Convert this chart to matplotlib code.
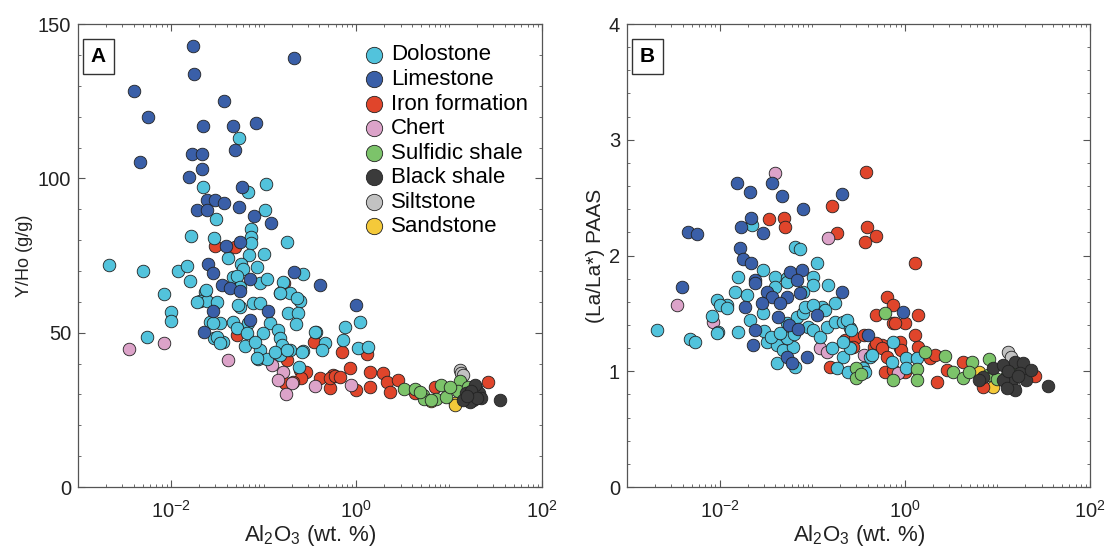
import matplotlib
matplotlib.use("Agg")
import matplotlib.pyplot as plt
from matplotlib.ticker import FixedLocator, LogLocator, NullFormatter, MultipleLocator

plt.rcParams.update({"font.family": ["Liberation Sans", "DejaVu Sans"],
                     "mathtext.default": "regular", "font.size": 11})

CATS = ["Dolostone", "Limestone", "Iron formation", "Chert", "Sulfidic shale",
        "Black shale", "Siltstone", "Sandstone"]
COLORS = {"Dolostone": "#52c3dc", "Limestone": "#3a5fa8", "Iron formation": "#e0452b",
          "Chert": "#dca3c9", "Sulfidic shale": "#7cc36a", "Black shale": "#3b3b3b",
          "Siltstone": "#c2c2c2", "Sandstone": "#f4c93a"}

# ---- panel A: Y/Ho vs Al2O3 (wt. %) ----
A_DOL = [(0.0543, 113.2), (0.0224, 97.3), (0.106, 98.2), (0.0684, 95.7), (0.1035, 89.7),
         (0.0305, 86.7), (0.0164, 81.3), (0.0731, 83.5), (0.0741, 81.1), (0.0294, 80.6),
         (0.0725, 79.0), (0.177, 79.5), (0.0417, 74.3), (0.0701, 75.1), (0.101, 75.4),
         (0.00216, 71.9), (0.00498, 70.1), (0.0121, 70.0), (0.0151, 71.7), (0.0578, 72.2),
         (0.0603, 70.5), (0.0843, 71.4), (0.268, 69.0), (0.0161, 66.7), (0.0234, 63.3),
         (0.0206, 60.4), (0.0244, 60.4), (0.0312, 60.0), (0.0085, 62.5), (0.0100, 56.8),
         (0.0100, 53.8), (0.00558, 48.7), (0.0472, 68.1), (0.0914, 66.2), (0.163, 66.5),
         (0.150, 62.8), (0.192, 62.8), (0.246, 60.4), (0.0557, 58.4), (0.0774, 59.5),
         (0.0914, 59.5), (0.185, 56.3), (0.236, 56.5), (0.0264, 53.6), (0.0339, 53.0),
         (0.0472, 53.6), (0.0684, 53.0), (0.117, 53.0), (0.223, 52.7), (0.0513, 51.4),
         (0.0658, 49.8), (0.0977, 49.8), (0.144, 50.9), (0.0294, 48.2), (0.0368, 47.1),
         (0.0631, 45.7), (0.0914, 44.4), (0.150, 48.2), (0.157, 46.0), (0.192, 44.4),
         (0.268, 44.1), (0.0865, 41.4), (0.108, 41.4), (0.150, 42.8), (0.240, 39.0),
         (0.364, 50.3), (0.459, 46.6), (0.423, 44.4), (0.753, 51.7), (0.722, 47.6),
         (1.09, 53.6), (1.03, 44.9), (1.32, 45.3), (0.0513, 68.4), (0.108, 67.3),
         (0.152, 63.0), (0.227, 61.1), (0.0239, 63.8), (0.0557, 64.9), (0.0190, 60.0),
         (0.0287, 53.0), (0.0312, 48.7), (0.0339, 46.6), (0.0535, 59.0), (0.0805, 47.1),
         (0.0843, 41.7), (0.132, 43.8), (0.177, 44.4), (0.262, 43.8), (0.356, 50.3)]
A_LIM = [(0.0172, 143.0), (0.214, 138.9), (0.0179, 133.8), (0.0040, 128.4), (0.0378, 125.2),
         (0.0057, 120.0), (0.0220, 117.0), (0.0472, 117.0), (0.0822, 118.0), (0.0492, 109.2),
         (0.0168, 107.8), (0.0217, 107.8), (0.0047, 105.2), (0.0217, 103.0), (0.0157, 100.4),
         (0.0585, 97.2), (0.0244, 93.0), (0.0299, 93.0), (0.0378, 91.9), (0.0190, 89.9),
         (0.0247, 89.9), (0.0547, 90.6), (0.0789, 87.8), (0.120, 85.6), (0.0394, 78.1),
         (0.0557, 79.5), (0.0254, 72.2), (0.214, 69.8), (0.0287, 69.2), (0.0353, 65.4),
         (0.0434, 64.4), (0.0557, 63.6), (0.0714, 67.3), (0.405, 65.4), (0.99, 59.0),
         (0.0287, 57.1), (0.112, 57.1), (0.0714, 54.1), (0.0228, 50.2)]
A_IRON = [(0.0299, 78.1), (0.0492, 77.9), (0.167, 66.2), (0.0513, 49.2), (0.349, 47.1),
          (0.693, 43.6), (1.29, 43.0), (0.177, 41.1), (0.246, 37.9), (0.290, 37.4),
          (0.255, 35.2), (0.210, 34.1), (0.405, 35.2), (0.516, 32.0), (0.560, 36.3),
          (0.17, 33.6), (0.520, 35.2), (0.583, 36.0), (0.660, 35.7), (0.85, 38.5),
          (1.40, 37.4), (1.40, 32.5), (1.00, 31.4), (1.95, 36.8), (2.16, 34.1),
          (2.30, 30.9), (2.82, 34.7), (4.28, 30.4), (7.0, 32.5), (26.4, 34.1)]
A_CHERT = [(0.00355, 44.8), (0.0085, 46.5), (0.0411, 41.1), (0.124, 39.5), (0.163, 37.4),
           (0.144, 34.7), (0.200, 33.6), (0.173, 30.1), (0.356, 32.7), (0.87, 33.0),
           (14.2, 30.0)]
A_SULF = [(3.26, 31.7), (4.28, 31.7), (5.27, 29.8), (5.36, 28.4), (7.2, 28.4), (8.2, 33.0),
          (9.3, 29.3), (13.1, 34.3), (12.5, 31.2), (15.8, 32.3), (10.2, 32.5), (4.8, 30.9),
          (6.3, 28.2)]
A_BLACK = [(15.2, 30.4), (17.9, 28.2), (19.5, 32.0), (21.2, 30.4), (18.8, 33.0), (16.6, 27.6),
           (14.2, 28.2), (22.1, 28.7), (35.3, 28.2), (17.0, 31.0), (20.0, 29.0), (15.5, 29.5)]
A_SILT = [(13.1, 37.9), (13.5, 36.8), (14.2, 36.3)]
A_SAND = [(6.4, 28.0), (11.5, 27.1), (11.7, 26.6)]

# ---- panel B: (La/La*)PAAS vs Al2O3 (wt. %) ----
B_DOL = [(0.0651, 2.076), (0.074, 2.053), (0.112, 1.938), (0.0222, 2.263), (0.0292, 1.875),
         (0.0159, 1.812), (0.0397, 1.812), (0.0529, 1.803), (0.101, 1.812), (0.149, 1.745),
         (0.0094, 1.616), (0.0119, 1.572), (0.0146, 1.682), (0.0196, 1.659), (0.177, 1.587),
         (0.127, 1.557), (0.0021, 1.356), (0.0048, 1.276), (0.0054, 1.250), (0.0082, 1.477),
         (0.0101, 1.572), (0.0119, 1.544), (0.0097, 1.342), (0.0159, 1.342), (0.0213, 1.443),
         (0.0296, 1.501), (0.0323, 1.255), (0.0413, 1.227), (0.0486, 1.184), (0.0622, 1.212),
         (0.0413, 1.069), (0.0651, 1.039), (0.053, 1.285), (0.053, 1.414), (0.068, 1.471),
         (0.080, 1.501), (0.090, 1.385), (0.102, 1.356), (0.121, 1.299), (0.143, 1.385),
         (0.176, 1.428), (0.216, 1.428), (0.255, 1.371), (0.138, 1.529), (0.162, 1.198),
         (0.216, 1.126), (0.255, 1.198), (0.184, 1.025), (0.245, 0.996), (0.356, 1.025),
         (0.421, 1.126), (0.102, 1.745), (0.080, 1.687), (0.0397, 1.730), (0.0529, 1.774),
         (0.084, 1.557), (0.102, 1.572), (0.0094, 1.328), (0.235, 1.443), (0.265, 1.356),
         (0.216, 1.255), (0.372, 0.996), (0.437, 1.140), (0.75, 1.255), (0.72, 1.082),
         (1.04, 1.112), (1.04, 1.025), (1.35, 1.112), (0.030, 1.35), (0.036, 1.30),
         (0.045, 1.33), (0.063, 1.32)]
B_LIM = [(0.0153, 2.624), (0.0213, 2.546), (0.0371, 2.624), (0.0469, 2.517), (0.211, 2.531),
         (0.080, 2.399), (0.0218, 2.321), (0.0169, 2.244), (0.0292, 2.192), (0.00459, 2.206),
         (0.00565, 2.186), (0.0166, 2.062), (0.0177, 1.967), (0.0217, 1.938), (0.0575, 1.860),
         (0.0771, 1.875), (0.0241, 1.788), (0.0039, 1.725), (0.068, 1.788), (0.0241, 1.760),
         (0.0323, 1.687), (0.0364, 1.644), (0.0529, 1.644), (0.0740, 1.673), (0.209, 1.687),
         (0.0188, 1.557), (0.0448, 1.587), (0.0284, 1.587), (0.0424, 1.471), (0.0560, 1.400),
         (0.0706, 1.362), (0.112, 1.486), (0.0241, 1.356), (0.0228, 1.227), (0.087, 1.126),
         (0.053, 1.126), (0.060, 1.069), (0.96, 1.514), (0.40, 1.313)]
B_IRON = [(0.381, 2.724), (0.162, 2.430), (0.034, 2.315), (0.0497, 2.321), (0.0507, 2.249),
          (0.186, 2.192), (0.386, 2.244), (0.488, 2.168), (0.372, 2.114), (1.29, 1.938),
          (0.637, 1.644), (0.75, 1.572), (0.49, 1.486), (0.75, 1.414), (1.0, 1.419),
          (1.38, 1.486), (1.29, 1.313), (1.38, 1.212), (0.226, 1.270), (0.29, 1.285),
          (0.36, 1.313), (0.46, 1.212), (0.57, 1.227), (0.89, 1.198), (0.155, 1.039),
          (0.61, 0.996), (1.0, 0.996), (1.87, 1.112), (2.14, 1.140), (2.84, 1.011),
          (2.2, 0.910), (4.3, 1.082), (6.9, 0.866), (25.5, 0.959), (0.276, 1.212),
          (0.78, 1.414), (0.49, 1.241), (0.57, 1.198), (0.89, 1.255), (0.92, 1.184),
          (0.637, 1.126), (0.75, 1.011)]
B_CHERT = [(0.0397, 2.710), (0.149, 2.154), (0.0035, 1.572), (0.0085, 1.428), (0.0397, 1.270),
           (0.121, 1.198), (0.143, 1.169), (0.36, 1.140), (0.85, 0.982), (14.3, 1.031)]
B_SULF = [(0.61, 1.501), (1.66, 1.169), (2.7, 1.132), (3.33, 0.996), (4.3, 0.939), (5.3, 1.082),
          (4.9, 0.996), (8.2, 1.103), (8.0, 0.968), (9.8, 0.930), (12.6, 0.968), (16.3, 1.025),
          (1.35, 1.017), (0.75, 0.924), (1.35, 0.924), (0.30, 1.025), (0.30, 0.939), (0.34, 0.98)]
B_BLACK = [(6.9, 0.953), (8.9, 1.025), (11.5, 1.054), (15.5, 1.082), (19.0, 1.069), (17.6, 0.982),
           (20.6, 0.924), (14.3, 0.924), (11.5, 0.924), (15.5, 0.838), (12.6, 0.853),
           (23.2, 1.011), (35.5, 0.873), (6.4, 0.924), (13.0, 1.0), (16.5, 0.96)]
B_SILT = [(13.1, 1.169), (13.9, 1.126), (15.0, 0.86)]
B_SAND = [(6.4, 0.996), (8.9, 0.866)]

PANEL_A = {"Dolostone": A_DOL, "Limestone": A_LIM, "Iron formation": A_IRON, "Chert": A_CHERT,
           "Sulfidic shale": A_SULF, "Black shale": A_BLACK, "Siltstone": A_SILT, "Sandstone": A_SAND}
PANEL_B = {"Dolostone": B_DOL, "Limestone": B_LIM, "Iron formation": B_IRON, "Chert": B_CHERT,
           "Sulfidic shale": B_SULF, "Black shale": B_BLACK, "Siltstone": B_SILT, "Sandstone": B_SAND}
DRAW_ORDER = ["Sandstone", "Siltstone", "Iron formation", "Chert", "Dolostone", "Limestone",
              "Sulfidic shale", "Black shale"]

fig = plt.figure(figsize=(11.09, 5.54), dpi=100)
axA = fig.add_axes([0.0703, 0.1209, 0.4184, 0.8357])
axB = fig.add_axes([0.5654, 0.1209, 0.4175, 0.8357])


def panel(ax, data, ymax, ystep, yminor, ylabel, ylsize, tag):
    for c in DRAW_ORDER:
        pts = data[c]
        ax.scatter([p[0] for p in pts], [p[1] for p in pts], s=82, color=COLORS[c],
                   edgecolor="#222222", linewidth=0.6, zorder=3, label=c)
    ax.set_xscale("log")
    ax.set_xlim(1e-3, 1e2)
    ax.set_ylim(0, ymax)
    ax.xaxis.set_major_locator(FixedLocator([1e-2, 1e0, 1e2]))
    ax.xaxis.set_minor_locator(LogLocator(base=10, subs=range(1, 10), numticks=20))
    ax.xaxis.set_minor_formatter(NullFormatter())
    ax.yaxis.set_major_locator(MultipleLocator(ystep))
    ax.yaxis.set_minor_locator(MultipleLocator(yminor))
    ax.tick_params(which="both", direction="in", top=True, right=True, labelsize=14.5,
                   color="#555555", labelcolor="#222222")
    ax.tick_params(which="major", length=5)
    ax.tick_params(axis="x", which="major", pad=9)
    ax.tick_params(axis="y", which="major", pad=5)
    ax.tick_params(which="minor", length=2.5)
    for sp in ax.spines.values():
        sp.set_color("#555555")
        sp.set_linewidth(0.9)
    ax.set_xlabel("Al$_2$O$_3$ (wt. %)", fontsize=16, labelpad=1, color="#222222")
    ax.set_ylabel(ylabel, fontsize=ylsize, labelpad=3, color="#222222")
    ax.text(0.028, 0.95, tag, transform=ax.transAxes, fontsize=15, fontweight="bold",
            va="top", ha="left",
            bbox=dict(boxstyle="square,pad=0.38", fc="white", ec="#333333", lw=1))


panel(axA, PANEL_A, 150, 50, 10, "Y/Ho (g/g)", 13, "A")
panel(axB, PANEL_B, 4, 1, 0.2, "(La/La*) PAAS", 15, "B")

hs, ls = axA.get_legend_handles_labels()
order = [ls.index(c) for c in CATS]
axA.legend([hs[i] for i in order], CATS, loc="upper left", bbox_to_anchor=(0.613, 0.956),
           frameon=False, fontsize=16, markerscale=1.3, handlelength=1.0, handletextpad=0.3,
           labelspacing=0.16, borderaxespad=0, borderpad=0)

fig.savefig("out.png", dpi=100)
